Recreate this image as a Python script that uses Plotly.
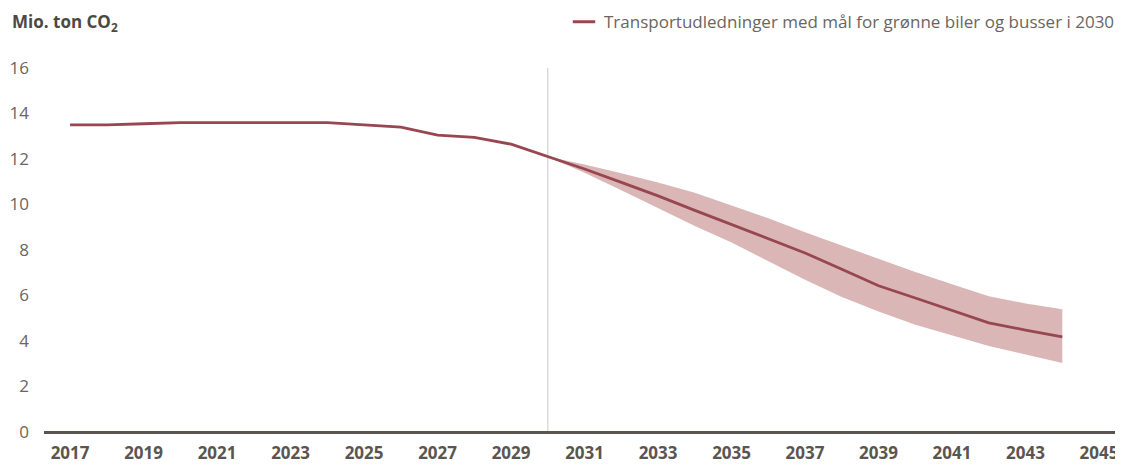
import plotly.graph_objects as go

# ---- data ----
hist_years = list(range(2017, 2031))
hist_values = [13.5, 13.5, 13.55, 13.6, 13.6, 13.6, 13.6, 13.6, 13.5, 13.4, 13.05, 12.95, 12.65, 12.1]

proj_years = list(range(2030, 2045))
proj_values = [12.1, 11.56, 10.97, 10.38, 9.74, 9.12, 8.48, 7.87, 7.15, 6.43, 5.89, 5.36, 4.8, 4.48, 4.18]
proj_upper = [12.1, 11.76, 11.37, 10.97, 10.52, 9.96, 9.4, 8.78, 8.2, 7.6, 7.03, 6.49, 5.97, 5.65, 5.4]
proj_lower = [12.1, 11.4, 10.63, 9.84, 9.06, 8.33, 7.52, 6.69, 5.93, 5.3, 4.71, 4.24, 3.78, 3.41, 3.03]

divider_year = 2030
x_ticks = list(range(2017, 2046, 2))
y_ticks = list(range(0, 17, 2))
series_name = "Transportudledninger med mål for grønne biler og busser i 2030"
y_title = "<b>Mio. ton CO<sub>2</sub></b>"

LINE = "#984750"
BAND = "#dab7b6"
FONT = "Open Sans"

fig = go.Figure()

# uncertainty band
fig.add_trace(go.Scatter(x=proj_years, y=proj_upper, mode="lines",
                         line=dict(width=0, color=BAND), showlegend=False,
                         hoverinfo="skip"))
fig.add_trace(go.Scatter(x=proj_years, y=proj_lower, mode="lines",
                         line=dict(width=0, color=BAND), fill="tonexty",
                         fillcolor=BAND, showlegend=False, hoverinfo="skip"))

# main line
all_years = hist_years + proj_years[1:]
all_values = hist_values + proj_values[1:]
fig.add_trace(go.Scatter(x=all_years, y=all_values, mode="lines",
                         line=dict(width=2.8, color=LINE), showlegend=False,
                         name=series_name))

# legend entry (short dash)
fig.add_trace(go.Scatter(x=[None], y=[None], mode="markers",
                         marker=dict(symbol="line-ew", size=16,
                                     line=dict(width=3, color=LINE)),
                         name=series_name, showlegend=True))

# divider line
fig.add_shape(type="line", xref="x", yref="y", x0=divider_year, x1=divider_year,
              y0=0, y1=16, line=dict(color="#c9c9c9", width=1), layer="below")

# page body has an 8px margin, so the figure is sized/placed to compensate
fig.update_layout(
    width=1115, height=457,
    margin=dict(l=36, r=3, t=60, b=33, autoexpand=False),
    paper_bgcolor="white", plot_bgcolor="white",
    font=dict(family=FONT, color="#6a6560"),
    showlegend=True,
    legend=dict(x=1.0, xanchor="right", y=1.126, yanchor="middle",
                font=dict(size=17, color="#6a6560", family=FONT),
                bgcolor="rgba(0,0,0,0)", itemwidth=30),
    xaxis=dict(range=[2016.29, 2045.57], tickmode="array", tickvals=x_ticks,
               ticktext=[f"<b>{t}</b>" for t in x_ticks], tickangle=0,
               showgrid=False, zeroline=False, showline=False, ticks="",
               automargin=False, ticklabelstandoff=9,
               tickfont=dict(size=17, color="#5a5550", family=FONT)),
    yaxis=dict(range=[0, 16], tickmode="array", tickvals=y_ticks,
               showgrid=False, zeroline=True, zerolinecolor="#5a5550",
               zerolinewidth=3, showline=False, ticks="", ticklabelstandoff=14,
               automargin=False,
               tickfont=dict(size=17, color="#6a6560", family=FONT)),
    annotations=[dict(text=y_title, xref="paper", yref="paper", x=-0.0316, y=1.126,
                      xanchor="left", yanchor="middle", showarrow=False,
                      font=dict(size=17, color="#4d4843", family=FONT))],
)

fig.write_html("out.html")
